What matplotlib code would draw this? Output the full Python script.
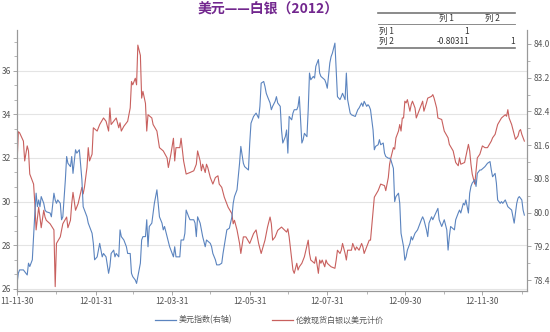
import matplotlib
matplotlib.use("Agg")
import matplotlib.pyplot as plt
import matplotlib.dates as mdates
from matplotlib.ticker import MultipleLocator, AutoMinorLocator, FormatStrFormatter
from matplotlib.lines import Line2D
import pandas as pd

plt.rcParams['font.family'] = ['Noto Sans CJK SC', 'DejaVu Sans']

START = pd.Timestamp("2011-11-30")

# London spot silver (USD), days counted from START
silver_day = [0, 1, 2, 5, 6, 8, 9, 10, 13, 14,
              15, 17, 18, 19, 21, 22, 23, 26, 29, 30,
              31, 34, 36, 39, 40, 42, 43, 44, 46, 48,
              51, 52, 53, 55, 56, 57, 59, 60, 63, 65,
              68, 70, 72, 73, 74, 76, 78, 80, 81, 82,
              84, 87, 89, 90, 91, 93, 94, 95, 97, 98,
              99, 101, 102, 103, 106, 107, 110, 112, 115, 118,
              119, 120, 121, 123, 124, 125, 128, 129, 131, 133,
              136, 139, 141, 142, 144, 145, 146, 148, 149, 150,
              152, 154, 156, 158, 159, 161, 163, 166, 169, 170,
              171, 173, 175, 176, 178, 180, 183, 184, 186, 188,
              190, 192, 195, 197, 199, 200, 201, 203, 205, 208,
              212, 213, 214, 217, 218, 220, 221, 222, 224, 226,
              229, 230, 231, 234, 235, 237, 238, 239, 240, 242,
              243, 244, 247, 250, 251, 252, 254, 255, 256, 258,
              259, 260, 263, 264, 266, 267, 269, 271, 272, 273,
              275, 276, 277, 278, 281, 284, 286, 289, 290, 292,
              293, 294, 296, 297, 298, 300, 301, 302, 303, 304,
              305, 306, 307, 309, 310, 311, 313, 314, 315, 318,
              319, 320, 322, 323, 326, 327, 328, 330, 331, 334,
              336, 339, 340, 343, 345, 347, 348, 349, 352, 355,
              356, 357, 358, 360, 361, 362, 364, 366, 368, 370,
              373, 374, 376, 378, 381, 384, 385, 386, 387, 389,
              391, 392, 394, 395, 396, 397, 399]
silver_price = [31.7, 33.2, 33.15, 32.77, 31.86, 32.55, 32.32, 31.26, 30.8, 29.9,
                28.7, 29.74, 29.29, 28.8, 29.6, 29.29, 29.14, 28.98, 28.7, 26.1,
                28.08, 28.38, 28.98, 29.29, 28.8, 29.14, 29.9, 30.42, 29.6, 29.9,
                30.65, 30.35, 30.65, 31.56, 32.47, 31.86, 32.17, 33.38, 33.23, 33.53,
                33.83, 33.68, 33.23, 34.29, 33.53, 33.68, 33.83, 33.38, 33.61, 33.23,
                33.45, 33.68, 34.29, 35.5, 35.35, 35.65, 35.35, 37.17, 36.7, 34.74,
                35.05, 34.5, 33.23, 33.98, 33.83, 33.53, 33.23, 32.47, 32.32, 32.0,
                31.56, 31.86, 32.17, 32.9, 31.86, 32.47, 32.47, 32.9, 31.86, 31.26,
                31.33, 31.41, 31.71, 32.32, 31.86, 31.41, 31.71, 31.33, 31.71, 31.56,
                31.1, 30.8, 31.1, 31.18, 30.8, 30.65, 30.2, 29.74, 29.44, 28.98,
                29.14, 28.7, 28.08, 27.62, 28.38, 28.38, 28.08, 28.23, 28.53, 28.7,
                28.08, 27.62, 28.23, 28.83, 29.29, 28.98, 28.23, 28.38, 28.68, 28.83,
                28.6, 28.75, 28.38, 26.86, 26.71, 27.17, 26.86, 27.01, 27.17, 27.47,
                28.23, 27.62, 27.32, 27.17, 27.47, 26.71, 27.32, 27.17, 27.32, 27.01,
                27.32, 27.17, 27.01, 26.94, 27.32, 27.77, 27.62, 27.77, 28.08, 27.62,
                27.32, 27.77, 27.77, 28.08, 27.77, 27.92, 27.77, 28.08, 27.92, 27.62,
                27.92, 28.08, 28.23, 28.23, 30.2, 30.5, 30.8, 30.73, 30.5, 31.1,
                31.71, 32.0, 32.47, 32.4, 32.92, 33.23, 33.53, 33.23, 33.83, 33.83,
                34.6, 34.52, 34.67, 34.14, 34.44, 34.6, 34.29, 33.83, 33.98, 34.44,
                34.6, 34.14, 34.52, 34.74, 34.82, 34.9, 34.74, 34.29, 33.83, 33.76,
                33.23, 32.92, 32.62, 32.32, 31.79, 31.64, 32.0, 31.71, 31.79, 32.62,
                32.32, 31.71, 31.26, 30.8, 31.41, 32.0, 32.17, 32.55, 32.47, 32.47,
                32.77, 32.92, 33.08, 33.53, 33.83, 33.98, 33.91, 34.21, 33.83, 33.53,
                33.08, 32.85, 33.0, 33.23, 33.3, 33.08, 32.77]

# US dollar index (right axis)
usd_day = [0, 1, 2, 5, 8, 9, 10, 12, 13, 14,
           15, 16, 17, 18, 19, 21, 22, 23, 26, 27,
           29, 30, 31, 32, 34, 35, 36, 38, 39, 40,
           42, 43, 44, 46, 47, 49, 51, 52, 53, 55,
           56, 59, 60, 61, 63, 64, 65, 67, 68, 70,
           72, 73, 74, 76, 77, 78, 80, 81, 82, 84,
           85, 86, 87, 89, 90, 91, 93, 94, 95, 97,
           98, 99, 101, 102, 103, 104, 106, 107, 108, 110,
           111, 112, 114, 115, 116, 118, 120, 123, 124, 125,
           128, 129, 131, 132, 133, 135, 136, 139, 140, 141,
           142, 144, 145, 146, 148, 149, 152, 153, 154, 156,
           157, 159, 161, 162, 165, 167, 169, 170, 171, 173,
           174, 175, 176, 178, 179, 182, 183, 184, 186, 188,
           190, 191, 192, 194, 195, 196, 197, 199, 200, 201,
           203, 204, 205, 207, 208, 209, 211, 212, 213, 214,
           216, 217, 218, 220, 221, 222, 224, 225, 226, 228,
           229, 230, 231, 233, 234, 235, 237, 238, 239, 242,
           243, 244, 246, 247, 248, 250, 251, 252, 254, 255,
           256, 258, 259, 260, 262, 263, 266, 267, 268, 269,
           271, 272, 273, 275, 276, 277, 278, 280, 281, 282,
           284, 285, 286, 288, 289, 290, 292, 293, 294, 296,
           297, 298, 300, 301, 302, 304, 305, 306, 307, 309,
           310, 311, 313, 315, 317, 318, 319, 320, 322, 323,
           324, 326, 327, 328, 331, 332, 334, 336, 338, 339,
           340, 341, 344, 345, 347, 348, 349, 351, 352, 353,
           355, 356, 357, 358, 360, 361, 362, 364, 365, 368,
           370, 372, 373, 374, 376, 377, 378, 380, 381, 382,
           384, 385, 386, 389, 391, 392, 393, 394, 395, 397,
           398, 399]
usd_index = [78.32, 78.56, 78.64, 78.64, 78.52, 78.8, 78.72, 78.88, 79.43, 79.99,
             80.46, 80.14, 80.3, 80.14, 80.38, 80.22, 80.06, 80.02, 79.99, 79.9,
             80.46, 80.3, 80.22, 80.3, 80.22, 79.83, 79.9, 80.78, 81.33, 81.17,
             81.09, 81.33, 80.93, 81.49, 81.41, 81.49, 80.78, 80.14, 80.06, 79.9,
             79.75, 79.51, 79.27, 78.88, 78.95, 79.11, 79.27, 78.95, 79.03, 78.95,
             78.56, 78.72, 79.03, 79.11, 78.95, 79.03, 78.95, 79.59, 79.43, 79.35,
             79.27, 79.19, 79.03, 79.03, 78.56, 78.48, 78.4, 78.32, 78.48, 78.8,
             79.35, 79.43, 79.43, 79.83, 79.19, 79.67, 79.75, 79.99, 80.22, 80.54,
             80.22, 79.9, 79.75, 79.59, 79.67, 79.43, 79.19, 78.95, 79.19, 78.95,
             78.95, 79.35, 79.35, 79.51, 80.06, 79.9, 79.83, 79.83, 79.75, 79.43,
             79.9, 79.75, 79.59, 79.43, 79.19, 79.35, 79.27, 79.19, 79.03, 78.88,
             78.76, 78.76, 78.8, 79.03, 79.59, 79.63, 79.9, 80.22, 80.38, 80.54,
             80.85, 81.17, 81.57, 81.17, 81.09, 81.01, 81.65, 82.12, 82.28, 82.36,
             82.24, 82.52, 83.07, 83.11, 82.99, 82.83, 82.75, 82.6, 82.44, 82.52,
             82.64, 82.75, 82.6, 82.52, 81.96, 81.65, 81.8, 81.96, 81.41, 82.28,
             82.2, 82.36, 82.44, 82.44, 82.52, 82.75, 81.65, 81.73, 81.88, 81.8,
             82.44, 83.31, 83.15, 83.23, 83.19, 83.47, 83.63, 83.31, 83.23, 83.15,
             83.07, 82.95, 83.55, 83.7, 83.78, 84.02, 83.39, 82.75, 82.68, 82.75,
             82.83, 82.68, 83.31, 82.68, 82.36, 82.32, 82.28, 82.36, 82.44, 82.48,
             82.6, 82.52, 82.64, 82.52, 82.56, 82.52, 82.44, 81.96, 81.49, 81.57,
             81.61, 81.73, 81.61, 81.65, 81.41, 81.33, 81.29, 81.29, 81.25, 81.05,
             80.26, 80.38, 80.46, 80.22, 79.51, 79.19, 78.87, 78.95, 79.11, 79.27,
             79.43, 79.35, 79.51, 79.59, 79.75, 79.83, 79.9, 79.83, 79.59, 79.43,
             79.75, 79.9, 79.83, 79.9, 80.1, 79.83, 79.67, 79.83, 79.59, 79.11,
             79.43, 79.67, 79.59, 79.83, 79.99, 80.06, 79.99, 80.22, 80.18, 80.3,
             79.99, 80.46, 80.62, 80.7, 80.78, 80.62, 80.93, 81.01, 81.01, 81.09,
             81.17, 81.21, 81.01, 80.85, 80.93, 80.7, 80.3, 80.22, 80.26, 80.22,
             80.3, 80.22, 80.14, 80.06, 79.75, 79.99, 80.22, 80.34, 80.38, 80.3,
             80.06, 79.94]

# correlation table shown in the corner
corr_cols = ["列 1", "列 2"]
corr_rows = [["列 1", "1", ""], ["列 2", "-0.80311", "1"]]

silver_dates = START + pd.to_timedelta(silver_day, unit="D")
usd_dates = START + pd.to_timedelta(usd_day, unit="D")

fig = plt.figure(figsize=(5.5, 3.32), dpi=100)
ax = fig.add_axes([0.031, 0.1235, 0.927, 0.786])
ax2 = ax.twinx()

red = "#C8605E"
blue = "#5B84BF"
ax.plot(silver_dates, silver_price, color=red, lw=0.8)
ax2.plot(usd_dates, usd_index, color=blue, lw=0.8)

ax.set_xlim(START, START + pd.Timedelta(days=401))
ax.set_ylim(25.9, 37.86)
ax2.set_ylim(78.14, 84.33)

ax.yaxis.set_major_locator(MultipleLocator(2))
ax.yaxis.set_minor_locator(AutoMinorLocator(3))
ax2.yaxis.set_major_locator(MultipleLocator(0.8))
ax2.yaxis.set_minor_locator(AutoMinorLocator(2))
ax2.yaxis.set_major_formatter(FormatStrFormatter("%.1f"))

ax.xaxis.set_major_locator(mdates.MonthLocator(bymonth=[1, 3, 5, 7, 9, 11], bymonthday=-1))
ax.xaxis.set_minor_locator(mdates.MonthLocator(bymonth=[2, 4, 6, 8, 10, 12], bymonthday=-1))
ax.xaxis.set_major_formatter(mdates.DateFormatter("%y-%m-%d"))

ax.grid(axis="y", color="#e4e4e4", lw=0.8)
ax.set_axisbelow(True)

for a in (ax, ax2):
    a.tick_params(which="major", labelsize=6, labelcolor="#555555", color="#999999",
                  length=3, width=0.6, pad=1.5)
    a.tick_params(which="minor", color="#999999", length=2, width=0.5)
    for s in a.spines.values():
        s.set_color("#999999")
        s.set_linewidth(0.8)
    a.spines["top"].set_visible(False)

# title
fig.text(0.487, 0.970, "美元——白银（2012）", ha="center", va="center",
         fontsize=10, fontweight="bold", color="#72278E")

# correlation table
x0, x1 = 378 / 550, 515 / 550
for ypx, lw in [(13, 1.2), (23.5, 0.6), (47.5, 1.2)]:
    fig.add_artist(Line2D([x0, x1], [1 - ypx / 332] * 2, color="#777777", lw=lw))
tfont = dict(fontsize=6, color="#333333", va="center")
fig.text(446 / 550, 1 - 18 / 332, corr_cols[0], ha="center", **tfont)
fig.text(492 / 550, 1 - 18 / 332, corr_cols[1], ha="center", **tfont)
for i, row in enumerate(corr_rows):
    yy = 1 - (31.5 + 10 * i) / 332
    fig.text(379 / 550, yy, row[0], ha="left", **tfont)
    fig.text(469 / 550, yy, row[1], ha="right", **tfont)
    fig.text(515 / 550, yy, row[2], ha="right", **tfont)

# legend below the axes
handles = [Line2D([], [], color=blue, lw=0.9), Line2D([], [], color=red, lw=0.9)]
leg = fig.legend(handles, ["美元指数(右轴)", "伦敦现货白银以美元计价"],
                 loc="center", bbox_to_anchor=(0.49, 0.036), ncol=2, frameon=False,
                 fontsize=5.8, handlelength=2.6, handletextpad=0.3, columnspacing=5)
for t in leg.get_texts():
    t.set_color("#555555")

fig.savefig("out.png", dpi=100)
